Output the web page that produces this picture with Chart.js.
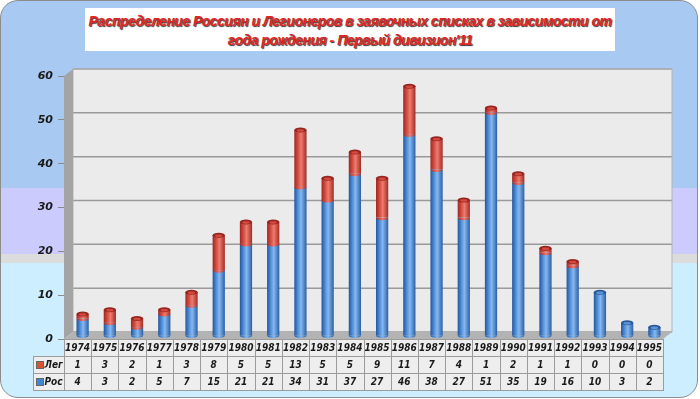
<!DOCTYPE html>
<html>
<head>
<meta charset="utf-8">
<script src="https://cdn.jsdelivr.net/npm/chart.js@4.4.1/dist/chart.umd.min.js"></script>
<style>
    body { margin: 0; background: #fff; }
    #frame {
        position: absolute; left: 0; top: 0; width: 698px; height: 398px;
        box-sizing: border-box; border: 1px solid #8c8c8c; border-radius: 18px;
        background: linear-gradient(to bottom,
            #a8c9f1 0, #a8c9f1 187px, #cbcbfd 187px, #cbcbfd 253px,
            #dcdcdc 253px, #dcdcdc 262px, #cdeeff 262px, #cdeeff 100%);
    }
    #title {
        position: absolute; left: 85px; top: 8px; width: 530px; height: 43px;
        background: #fff; color: #e02525; text-align: center; white-space: nowrap;
        font: italic bold 14px "Liberation Sans", sans-serif; line-height: 19px;
        padding-top: 4px; box-sizing: border-box; letter-spacing: -0.5px;
        text-shadow: 1px 1px 1px #333;
    }
    canvas { position: absolute; left: 0; top: 0; }
</style>
</head>
<body>
<div id="frame"></div>
<div id="title">Распределение Россиян и Легионеров в заявочных списках в зависимости от<br>года рождения - Первый дивизион'11</div>
<canvas id="chart" width="700" height="399"></canvas>
<script>
var years = ['1974', '1975', '1976', '1977', '1978', '1979', '1980', '1981', '1982', '1983', '1984',
             '1985', '1986', '1987', '1988', '1989', '1990', '1991', '1992', '1993', '1994', '1995'];
var legValues = [1, 3, 2, 1, 3, 8, 5, 5, 13, 5, 5, 9, 11, 7, 4, 1, 2, 1, 1, 0, 0, 0];
var rosValues = [4, 3, 2, 5, 7, 15, 21, 21, 34, 31, 37, 27, 46, 38, 27, 51, 35, 19, 16, 10, 3, 2];
var yTicks = [0, 10, 20, 30, 40, 50, 60];

var CAT_PCT = 0.9, BAR_PCT = 0.5;
var SHIFT_X = 5, SHIFT_Y = -3;     // 3D depth offset of the bars
var DEPTH_X = 9, DEPTH_Y = -7;     // back wall offset
var blueStops = ['#22559c', '#5a98e0', '#86b8ee', '#2a5fa6'];
var redStops = ['#9c2720', '#dc5448', '#ee7c70', '#a22c24'];
var tickFont = { family: 'DejaVu Sans', size: 11, weight: 'bold', style: 'italic' };

function barWidth(xs) {
    return xs.width / years.length * CAT_PCT * BAR_PCT;
}

function cylinderFill(stops) {
    return function(c) {
        var chart = c.chart, xs = chart.scales.x;
        if (!chart.chartArea || !xs) return stops[1];
        var cx = xs.getPixelForTick(c.dataIndex), w = barWidth(xs);
        var g = chart.ctx.createLinearGradient(cx - w / 2, 0, cx + w / 2, 0);
        g.addColorStop(0, stops[0]);
        g.addColorStop(0.35, stops[1]);
        g.addColorStop(0.55, stops[2]);
        g.addColorStop(1, stops[3]);
        return g;
    };
}

// back wall, left wall and floor
var wallPlugin = {
    id: 'wall3d',
    beforeDatasetsDraw: function(chart) {
        var ctx = chart.ctx, a = chart.chartArea, ys = chart.scales.y;
        ctx.save();
        ctx.fillStyle = '#ebebeb';
        ctx.fillRect(a.left + DEPTH_X, a.top + DEPTH_Y, a.right - a.left, a.bottom - a.top);
        ctx.strokeStyle = '#9a9a9a';
        ctx.lineWidth = 1.5;
        yTicks.forEach(function(v) {
            var y = ys.getPixelForValue(v) + DEPTH_Y;
            ctx.beginPath();
            ctx.moveTo(a.left + DEPTH_X, y);
            ctx.lineTo(a.right + DEPTH_X, y);
            ctx.stroke();
        });
        ctx.lineWidth = 1;
        ctx.strokeStyle = '#b5b5b5';
        ctx.strokeRect(a.left + DEPTH_X, a.top + DEPTH_Y, a.right - a.left, a.bottom - a.top);
        // left wall
        ctx.fillStyle = '#a4a4a4';
        ctx.beginPath();
        ctx.moveTo(a.left, a.top);
        ctx.lineTo(a.left + DEPTH_X, a.top + DEPTH_Y);
        ctx.lineTo(a.left + DEPTH_X, a.bottom + DEPTH_Y);
        ctx.lineTo(a.left, a.bottom);
        ctx.closePath();
        ctx.fill();
        // floor
        ctx.fillStyle = '#b3b3b3';
        ctx.beginPath();
        ctx.moveTo(a.left, a.bottom);
        ctx.lineTo(a.right, a.bottom);
        ctx.lineTo(a.right + DEPTH_X, a.bottom + DEPTH_Y);
        ctx.lineTo(a.left + DEPTH_X, a.bottom + DEPTH_Y);
        ctx.closePath();
        ctx.fill();
        ctx.restore();
        ctx.save();
        ctx.translate(SHIFT_X, SHIFT_Y);
    },
    afterDatasetsDraw: function(chart) {
        var ctx = chart.ctx;
        var ros = chart.getDatasetMeta(0).data, leg = chart.getDatasetMeta(1).data;
        ros.forEach(function(bar, i) {
            var rx = bar.width / 2, ry = 2.5;
            // rounded bottom
            ctx.fillStyle = bar.options.backgroundColor;
            ctx.beginPath();
            ctx.ellipse(bar.x, bar.base, rx, ry, 0, 0, Math.PI);
            ctx.fill();
            var top = bar, dark = '#2a5a9a', light = '#5d93d8';
            if (legValues[i] > 0) {
                var r = leg[i];
                ctx.fillStyle = r.options.backgroundColor;
                ctx.beginPath();
                ctx.ellipse(r.x, r.base, rx, ry, 0, 0, Math.PI);
                ctx.fill();
                top = r; dark = '#962620'; light = '#d54a3f';
            }
            ctx.beginPath();
            ctx.ellipse(top.x, top.y, rx, ry, 0, 0, Math.PI * 2);
            ctx.fillStyle = dark;
            ctx.fill();
            ctx.beginPath();
            ctx.ellipse(top.x, top.y + 0.5, rx * 0.6, ry * 0.5, 0, 0, Math.PI * 2);
            ctx.fillStyle = light;
            ctx.fill();
        });
        ctx.restore();
    }
};

// data table below the plot
var tablePlugin = {
    id: 'dataTable',
    afterDraw: function(chart) {
        var ctx = chart.ctx, xs = chart.scales.x, a = chart.chartArea;
        var cw = xs.width / years.length, rh = 17, labLeft = 33;
        var rows = [years, legValues, rosValues];
        var names = ['', 'Лег', 'Рос'];
        var keys = ['', '#d9542e', '#3a88d6'];
        ctx.save();
        ctx.font = 'italic bold 10px "DejaVu Sans Condensed", "DejaVu Sans"';
        ctx.textAlign = 'center';
        ctx.textBaseline = 'middle';
        ctx.lineWidth = 1;
        rows.forEach(function(row, r) {
            var y = Math.round(a.bottom + r * rh) + 0.5;
            row.forEach(function(v, i) {
                var x = Math.round(xs.left + i * cw) + 0.5;
                var x2 = Math.round(xs.left + (i + 1) * cw) + 0.5;
                ctx.fillStyle = '#eeeeee';
                ctx.fillRect(x, y, x2 - x, rh);
                ctx.strokeStyle = '#9b9b9b';
                ctx.strokeRect(x, y, x2 - x, rh);
                ctx.fillStyle = '#1a1a1a';
                ctx.fillText(String(v), xs.getPixelForTick(i), y + rh / 2 + 0.5);
            });
            if (r > 0) {
                var lx = labLeft + 0.5, w = Math.round(xs.left) - labLeft;
                ctx.fillStyle = '#eeeeee';
                ctx.fillRect(lx, y, w, rh);
                ctx.strokeStyle = '#9b9b9b';
                ctx.strokeRect(lx, y, w, rh);
                ctx.fillStyle = keys[r];
                ctx.fillRect(lx + 3, y + 5, 7, 7);
                ctx.strokeStyle = '#666';
                ctx.strokeRect(lx + 3, y + 5, 7, 7);
                ctx.fillStyle = '#1a1a1a';
                ctx.textAlign = 'left';
                ctx.fillText(names[r], lx + 11, y + rh / 2 + 0.5);
                ctx.textAlign = 'center';
            }
        });
        ctx.restore();
    }
};

var ctx = document.getElementById('chart').getContext('2d');
var chart = new Chart(ctx, {
    type: 'bar',
    data: {
        labels: years,
        datasets: [{
            label: 'Рос',
            data: rosValues,
            backgroundColor: cylinderFill(blueStops),
            borderWidth: 0
        }, {
            label: 'Лег',
            data: legValues,
            backgroundColor: cylinderFill(redStops),
            borderWidth: 0
        }]
    },
    options: {
        responsive: false,
        animation: false,
        layout: { padding: { top: 76, right: 37, left: 0, bottom: 0 } },
        datasets: { bar: { categoryPercentage: CAT_PCT, barPercentage: BAR_PCT } },
        plugins: {
            legend: { display: false },
            title: { display: false }
        },
        scales: {
            x: {
                stacked: true,
                grid: { display: false },
                border: { display: false },
                ticks: { display: false },
                afterFit: function(s) { s.height = 60; }
            },
            y: {
                stacked: true,
                min: 0,
                max: 60,
                afterBuildTicks: function(s) {
                    s.ticks = yTicks.map(function(v) { return { value: v }; });
                },
                grid: { drawOnChartArea: false, tickLength: 6, color: '#8a8a8a' },
                border: { display: false },
                ticks: { padding: 5, color: '#1a1a1a', font: tickFont },
                afterFit: function(s) { s.width = 64; }
            }
        }
    },
    plugins: [wallPlugin, tablePlugin]
});
</script>
</body>
</html>
